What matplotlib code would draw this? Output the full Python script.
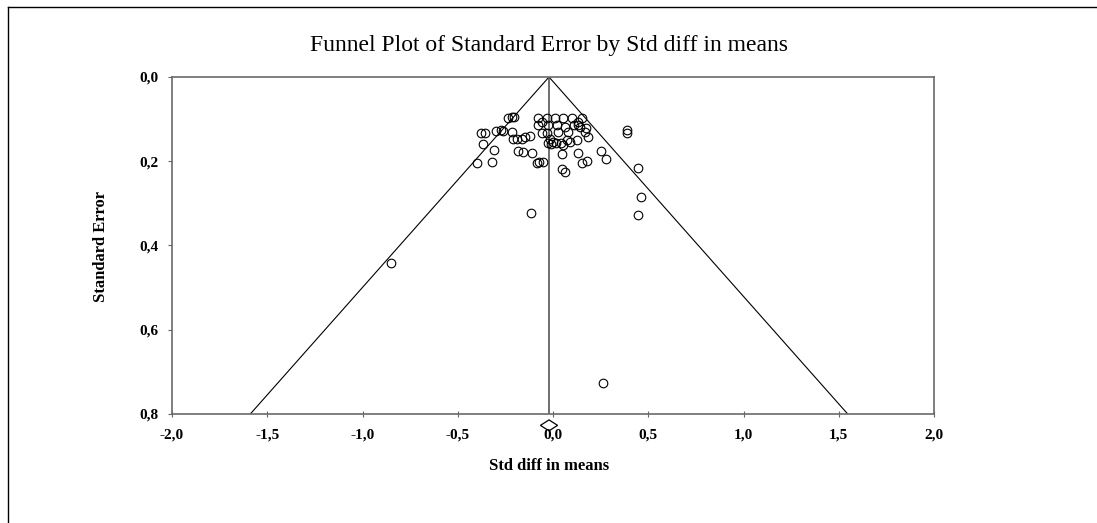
import matplotlib
matplotlib.use("Agg")
import matplotlib.pyplot as plt
import numpy as np
from matplotlib.lines import Line2D
from matplotlib.patches import Polygon

plt.rcParams['font.family'] = ['Liberation Serif', 'DejaVu Serif']

# effect sizes (std diff in means) and their standard errors
std_diff = [
    -0.380, -0.357, -0.369, -0.397, -0.310, -0.322, -0.299, -0.275, -0.261,
    -0.235, -0.217, -0.205, -0.217, -0.212, -0.187, -0.164, -0.147, -0.121,
    -0.182, -0.159, -0.112, -0.086, -0.115,
    -0.073, -0.051, -0.077, -0.080, -0.059, -0.033, -0.028, -0.059, -0.033,
    -0.016, -0.025, -0.010, 0.002, 0.014, 0.010, 0.019, 0.028, 0.054, 0.063,
    0.080, 0.072, 0.042, 0.054, 0.089, 0.101, 0.151, 0.112, 0.130, 0.142,
    0.133, 0.172, 0.168, 0.185, 0.124, 0.049, 0.046, 0.063, 0.130, 0.151,
    0.177,
    0.252, 0.278, 0.387, 0.387, 0.448, 0.460, 0.445,
    -0.850, 0.262,
]
std_err = [
    0.134, 0.134, 0.159, 0.204, 0.173, 0.201, 0.128, 0.126, 0.128,
    0.098, 0.096, 0.094, 0.130, 0.148, 0.146, 0.148, 0.143, 0.140,
    0.176, 0.177, 0.180, 0.204, 0.322,
    0.201, 0.201, 0.098, 0.114, 0.106, 0.098, 0.114, 0.134, 0.134,
    0.146, 0.157, 0.159, 0.154, 0.156, 0.098, 0.114, 0.130, 0.098, 0.118,
    0.130, 0.150, 0.157, 0.162, 0.154, 0.098, 0.098, 0.114, 0.114, 0.118,
    0.106, 0.122, 0.130, 0.142, 0.150, 0.183, 0.219, 0.225, 0.181, 0.205,
    0.199,
    0.175, 0.195, 0.126, 0.134, 0.217, 0.284, 0.328,
    0.442, 0.727,
]

pooled = -0.021
pooled_ci = (-0.066, 0.024)

x_ticks = [-2.0, -1.5, -1.0, -0.5, 0.0, 0.5, 1.0, 1.5, 2.0]
y_ticks = [0.0, 0.2, 0.4, 0.6, 0.8]

fig = plt.figure(figsize=(10.97, 5.23), dpi=100)
ax = fig.add_axes([172 / 1097, 1 - 414 / 523, 762 / 1097, 337 / 523])

# funnel: pooled estimate +/- 1.96 SE
se_line = np.array([0.0, 0.8])
ax.plot(pooled - 1.96 * se_line, se_line, color='black', lw=0.8)
ax.plot(pooled + 1.96 * se_line, se_line, color='black', lw=0.8)
ax.plot([pooled, pooled], [0.0, 0.8], color='#555555', lw=1.2)

ax.plot(std_diff, std_err, linestyle='none', marker='o', markersize=6.2,
        markerfacecolor='none', markeredgecolor='black', markeredgewidth=0.8,
        clip_on=False)

# pooled estimate diamond under the axis
yd, hd = 0.827, 0.013
diamond = Polygon([(pooled_ci[0], yd), (pooled, yd - hd), (pooled_ci[1], yd), (pooled, yd + hd)],
                  closed=True, facecolor='none', edgecolor='black', lw=0.9, clip_on=False)
ax.add_patch(diamond)

ax.set_xlim(-2, 2)
ax.set_ylim(0.8, 0.0)
ax.set_xticks(x_ticks)
ax.set_xticklabels([f"{v:.1f}".replace('.', ',') for v in x_ticks], fontweight='bold', fontsize=11)
ax.set_yticks(y_ticks)
ax.set_yticklabels([f"{v:.1f}".replace('.', ',') for v in y_ticks], fontweight='bold', fontsize=11)
ax.tick_params(axis='x', direction='inout', length=5, width=0.8, color='#666666', pad=8)
ax.tick_params(axis='y', direction='out', length=3, width=0.8, color='#666666', pad=7)
for s in ax.spines.values():
    s.set_color('#6a6a6a')
    s.set_linewidth(1.2)

fig.text(549 / 1097, 1 - 46 / 523, "Funnel Plot of Standard Error by Std diff in means",
         ha='center', va='center', fontsize=17)
fig.text(549 / 1097, 1 - 466 / 523, "Std diff in means", ha='center', va='center',
         fontsize=12, fontweight='bold')
fig.text(101 / 1097, 1 - 247 / 523, "Standard Error", ha='center', va='center',
         rotation=90, fontsize=12, fontweight='bold')

# outer frame (left and top edges)
fig.add_artist(Line2D([8 / 1097, 8 / 1097], [0, 1 - 7 / 523], color='black', lw=1.0))
fig.add_artist(Line2D([8 / 1097, 1], [1 - 7 / 523, 1 - 7 / 523], color='black', lw=1.0))

fig.savefig("out.png", dpi=100)
